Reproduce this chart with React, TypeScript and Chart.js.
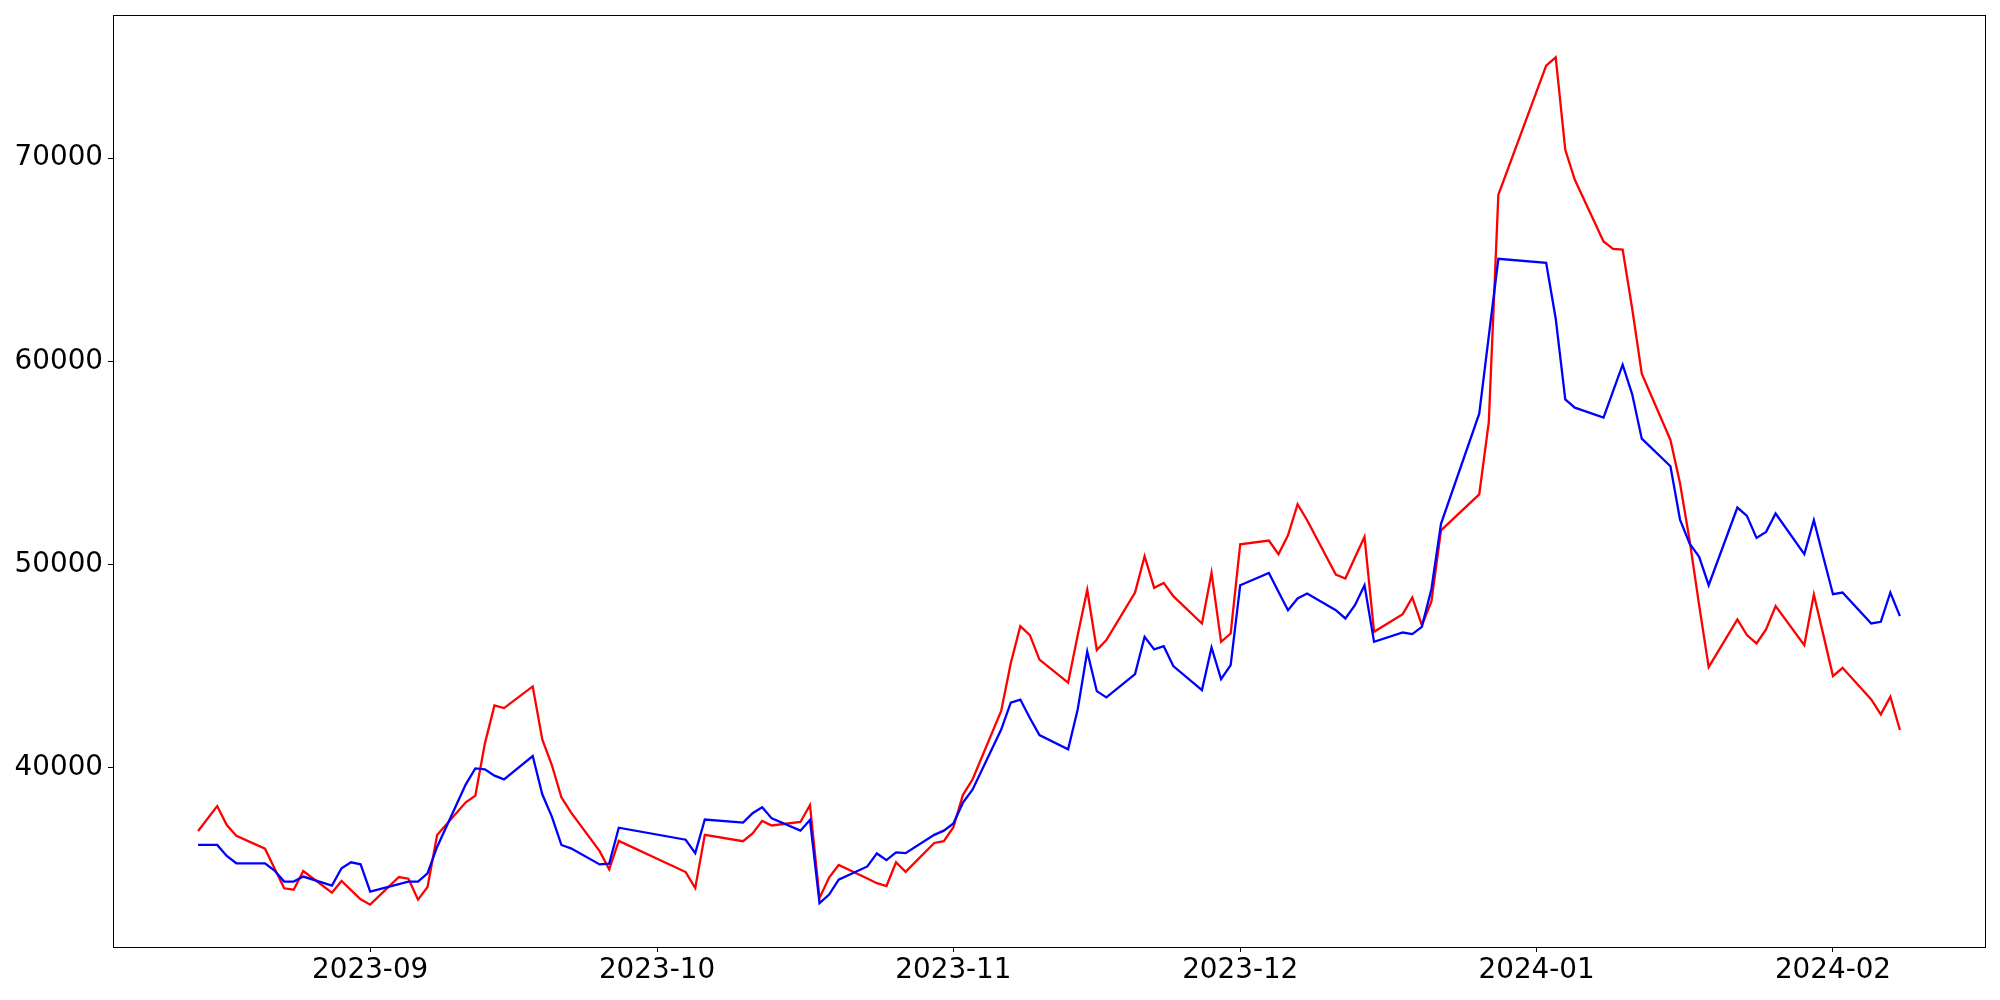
import React, { useEffect, useRef } from "react";
import { Chart, registerables } from "chart.js";

Chart.register(...registerables);

const dates: string[] = [
  "2023-08-14", "2023-08-16", "2023-08-17", "2023-08-18", "2023-08-21", "2023-08-22", "2023-08-23", "2023-08-24", "2023-08-25",
  "2023-08-28", "2023-08-29", "2023-08-30", "2023-08-31", "2023-09-01", "2023-09-04", "2023-09-05", "2023-09-06", "2023-09-07",
  "2023-09-08", "2023-09-11", "2023-09-12", "2023-09-13", "2023-09-14", "2023-09-15", "2023-09-18", "2023-09-19", "2023-09-20",
  "2023-09-21", "2023-09-22", "2023-09-25", "2023-09-26", "2023-09-27", "2023-10-04", "2023-10-05", "2023-10-06", "2023-10-10",
  "2023-10-11", "2023-10-12", "2023-10-13", "2023-10-16", "2023-10-17", "2023-10-18", "2023-10-19", "2023-10-20", "2023-10-23",
  "2023-10-24", "2023-10-25", "2023-10-26", "2023-10-27", "2023-10-30", "2023-10-31", "2023-11-01", "2023-11-02", "2023-11-03",
  "2023-11-06", "2023-11-07", "2023-11-08", "2023-11-09", "2023-11-10", "2023-11-13", "2023-11-14", "2023-11-15", "2023-11-16",
  "2023-11-17", "2023-11-20", "2023-11-21", "2023-11-22", "2023-11-23", "2023-11-24", "2023-11-27", "2023-11-28", "2023-11-29",
  "2023-11-30", "2023-12-01", "2023-12-04", "2023-12-05", "2023-12-06", "2023-12-07", "2023-12-08", "2023-12-11", "2023-12-12",
  "2023-12-13", "2023-12-14", "2023-12-15", "2023-12-18", "2023-12-19", "2023-12-20", "2023-12-21", "2023-12-22", "2023-12-26",
  "2023-12-27", "2023-12-28", "2024-01-02", "2024-01-03", "2024-01-04", "2024-01-05", "2024-01-08", "2024-01-09", "2024-01-10",
  "2024-01-11", "2024-01-12", "2024-01-15", "2024-01-16", "2024-01-17", "2024-01-18", "2024-01-19", "2024-01-22", "2024-01-23",
  "2024-01-24", "2024-01-25", "2024-01-26", "2024-01-29", "2024-01-30", "2024-01-31", "2024-02-01", "2024-02-02", "2024-02-05",
  "2024-02-06", "2024-02-07", "2024-02-08",
];

const redSeries: number[] = [
  36888, 38117, 37183, 36658, 36019, 35044, 34069, 34003, 34921,
  33856, 34430, 33979, 33528, 33266, 34626, 34544, 33512, 34135,
  36691, 38300, 38628, 41201, 43068, 42937, 44002, 41397, 40135,
  38546, 37808, 35900, 35007, 36400, 34870, 34080, 36699, 36389,
  36768, 37387, 37161, 37333, 38164, 33592, 34595, 35215, 34553,
  34320, 34182, 35353, 34884, 36301, 36389, 37075, 38670, 39420,
  42795, 45140, 46965, 46527, 45325, 44190, 46517, 48750, 45796,
  46281, 48624, 50410, 48852, 49098, 48444, 47101, 49590, 46197,
  46607, 50999, 51180, 50508, 51442, 52966, 52179, 49509, 49312,
  50344, 51360, 46689, 47558, 48379, 47017, 48185, 51680, 53450,
  57000, 68194, 74547, 74955, 70403, 68928, 65895, 65536, 65502,
  62587, 59391, 56130, 54000, 51200, 48000, 44950, 47298, 46527,
  46117, 46806, 47951, 46035, 48526, 46527, 44511, 44920, 43365,
  42628, 43493, 41856,
];

const blueSeries: number[] = [
  36202, 36202, 35662, 35301, 35301, 34941, 34400, 34400, 34646,
  34203, 35055, 35350, 35252, 33908, 34277, 34400, 34400, 34810,
  36104, 39185, 39971, 39922, 39611, 39430, 40578, 38694, 37595,
  36202, 36038, 35245, 35285, 37050, 36460, 35800, 37455, 37300,
  37766, 38060, 37510, 36906, 37435, 33336, 33764, 34491, 35146,
  35785, 35456, 35834, 35800, 36699, 36906, 37260, 38282, 38923,
  41880, 43207, 43358, 42450, 41610, 40907, 42870, 45720, 43770,
  43462, 44608, 46444, 45823, 45985, 45002, 43822, 45921, 44363,
  45051, 48984, 49590, 48656, 47755, 48329, 48575, 47755, 47346,
  48001, 48984, 46197, 46656, 46575, 46935, 48800, 52000, 57425,
  61240, 65044, 64847, 62095, 58128, 57720, 57228, 58536, 59834,
  58374, 56195, 54834, 52213, 51033, 50377, 48984, 52803, 52393,
  51310, 51606, 52508, 50508, 52179, 50344, 48541, 48624, 47101,
  47182, 48624, 47460,
];

const xTickLabels: string[] = ["2023-09", "2023-10", "2023-11", "2023-12", "2024-01", "2024-02"];
const yTickValues: number[] = [40000, 50000, 60000, 70000];

const toMs = (s: string) => Date.parse(s + "T00:00:00Z");
const fmtMonth = (v: number) => {
  const d = new Date(v);
  const m = d.getUTCMonth() + 1;
  return `${d.getUTCFullYear()}-${m < 10 ? "0" + m : m}`;
};

const framePlugin = {
  id: "frame",
  afterDatasetsDraw(chart: any) {
    const { ctx, chartArea } = chart;
    ctx.save();
    ctx.strokeStyle = "#000000";
    ctx.lineWidth = 1;
    ctx.strokeRect(
      Math.round(chartArea.left) + 0.5,
      Math.round(chartArea.top) + 0.5,
      Math.round(chartArea.right) - Math.round(chartArea.left),
      Math.round(chartArea.bottom) - Math.round(chartArea.top)
    );
    ctx.restore();
  },
};

export default function App() {
  const canvasRef = useRef<HTMLCanvasElement | null>(null);

  useEffect(() => {
    document.body.style.margin = "0";
    const canvas = canvasRef.current;
    if (!canvas) return;

    const xs = dates.map(toMs);
    const xMin0 = Math.min(...xs);
    const xMax0 = Math.max(...xs);
    const xPad = (xMax0 - xMin0) * 0.05;
    const allY = redSeries.concat(blueSeries);
    const yMin0 = Math.min(...allY);
    const yMax0 = Math.max(...allY);
    const yPad = (yMax0 - yMin0) * 0.05;

    const redData = xs.map((x, i) => ({ x, y: redSeries[i] }));
    const blueData = xs.map((x, i) => ({ x, y: blueSeries[i] }));
    const tickFont = { family: "'DejaVu Sans', sans-serif", size: 27.8, lineHeight: 1 };

    const chart = new Chart(canvas, {
      type: "line",
      data: {
        datasets: [
          {
            data: blueData,
            borderColor: "#0000ff",
            borderWidth: 2.3,
            pointRadius: 0,
            fill: false,
            tension: 0,
            order: 1,
          },
          {
            data: redData,
            borderColor: "#ff0000",
            borderWidth: 2.3,
            pointRadius: 0,
            fill: false,
            tension: 0,
            order: 2,
          },
        ],
      },
      options: {
        responsive: false,
        maintainAspectRatio: false,
        animation: false,
        devicePixelRatio: 1,
        layout: { padding: { left: 0, right: 15, top: 15, bottom: 0 } },
        plugins: {
          legend: { display: false },
          tooltip: { enabled: false },
          title: { display: false },
        },
        scales: {
          x: {
            type: "linear",
            min: xMin0 - xPad,
            max: xMax0 + xPad,
            afterBuildTicks: (scale: any) => {
              scale.ticks = xTickLabels.map((l) => ({ value: toMs(l + "-01") }));
            },
            afterFit: (scale: any) => {
              scale.height = 53;
              scale.paddingLeft = 0;
              scale.paddingRight = 0;
              scale.paddingTop = 0;
              scale.paddingBottom = 0;
            },
            ticks: {
              callback: (v: any) => fmtMonth(Number(v)),
              color: "#000000",
              font: tickFont,
              padding: 5,
              maxRotation: 0,
              autoSkip: false,
            },
            grid: {
              display: true,
              drawOnChartArea: false,
              drawTicks: true,
              tickLength: 5,
              tickWidth: 1,
              tickColor: "#000000",
            },
            border: { display: false },
          },
          y: {
            type: "linear",
            min: yMin0 - yPad,
            max: yMax0 + yPad,
            afterBuildTicks: (scale: any) => {
              scale.ticks = yTickValues.map((v) => ({ value: v }));
            },
            afterFit: (scale: any) => {
              scale.width = 113;
              scale.paddingLeft = 0;
              scale.paddingRight = 0;
              scale.paddingTop = 0;
              scale.paddingBottom = 0;
            },
            ticks: {
              callback: (v: any) => String(v),
              color: "#000000",
              font: tickFont,
              padding: 5,
              autoSkip: false,
            },
            grid: {
              display: true,
              drawOnChartArea: false,
              drawTicks: true,
              tickLength: 5,
              tickWidth: 1,
              tickColor: "#000000",
            },
            border: { display: false },
          },
        },
      },
      plugins: [framePlugin],
    });

    return () => {
      chart.destroy();
    };
  }, []);

  return (
    <div style={{ position: "absolute", left: 0, top: 0, width: 2000, height: 1000, background: "#ffffff" }}>
      <canvas ref={canvasRef} width={2000} height={1000} style={{ width: 2000, height: 1000, display: "block" }} />
    </div>
  );
}
